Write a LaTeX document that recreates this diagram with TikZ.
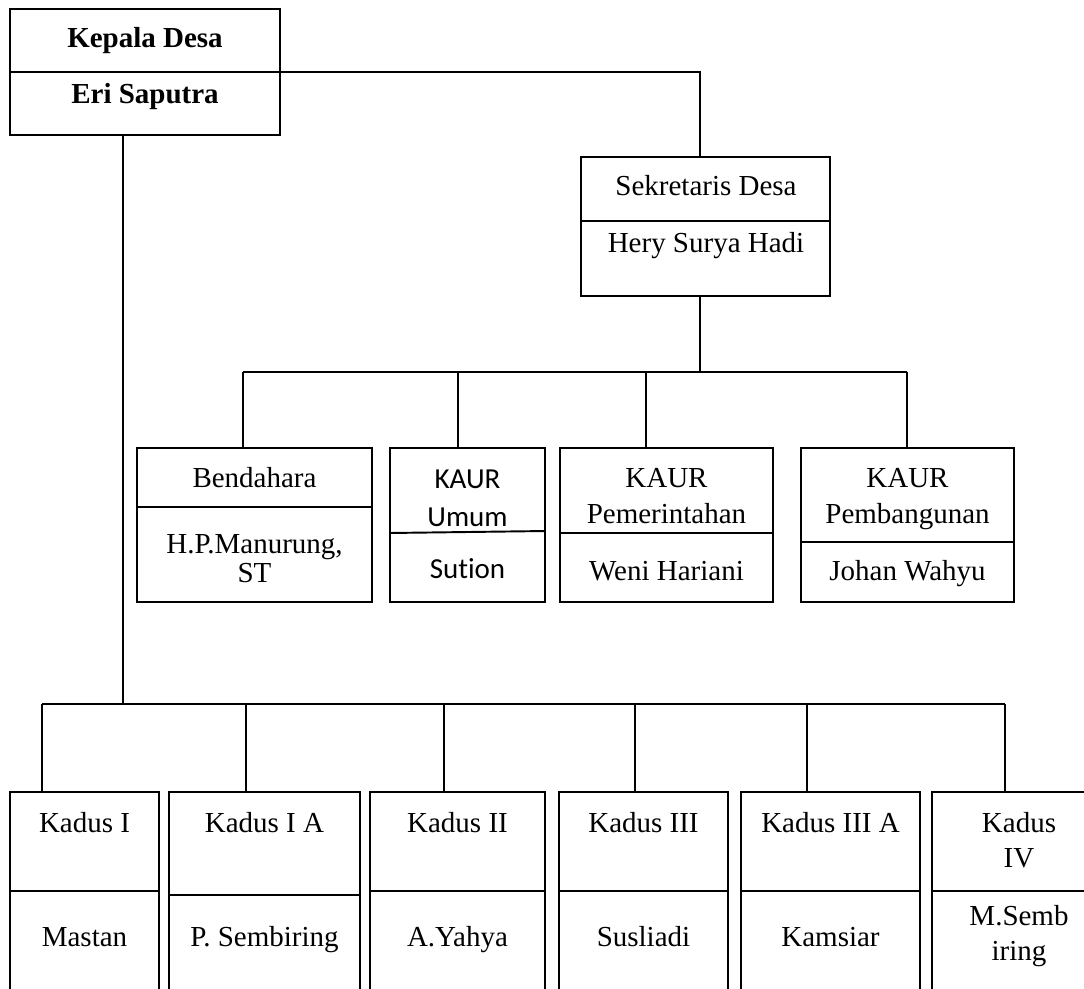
\documentclass[tikz,border=0pt]{standalone}
\usepackage{fontspec}
\setmainfont{Liberation Serif}
\newfontfamily\calibri[Ligatures=NoCommon]{Carlito}
\begin{document}
\begin{tikzpicture}[x=0.02cm,y=-0.02cm,
  kotak/.style={draw, line width=1.1pt, rectangle, inner sep=0pt},
  garis/.style={line width=1.1pt},
  teks/.style={anchor=base, inner sep=0pt, font=\fontsize{16.5}{20}\selectfont},
  tebal/.style={teks, font=\fontsize{16.5}{20}\selectfont\bfseries}]

\useasboundingbox (0,0) rectangle (1084,988);
\clip (0,0) rectangle (1084,988);

% kepala desa
\node[kotak, minimum width=5.4cm, minimum height=2.52cm] (kades) at (145,72) {};
\draw[garis] (kades.west) -- (kades.east);
\node[tebal] (kades1) at (145,47) {Kepala Desa};
\node[tebal] (kades2) at (145,103) {Eri Saputra};

% sekretaris
\node[kotak, minimum width=4.98cm, minimum height=2.78cm] (sekdes) at (705.5,226.5) {};
\draw[garis] (sekdes.west |- 0,221) -- (sekdes.east |- 0,221);
\node[teks] (sekdes1) at (706,195) {Sekretaris Desa};
\node[teks] (sekdes2) at (706,252) {Hery Surya Hadi};

\coordinate (ks) at (700,72);
\draw[garis] (kades.east) -- (ks) -- (ks |- sekdes.north);

% staf sekretaris
\node[kotak, minimum width=4.7cm, minimum height=3.08cm] (bendahara) at (254.5,525) {};
\draw[garis] (bendahara.west |- 0,507) -- (bendahara.east |- 0,507);
\node[teks] (bendahara1) at (254.5,487) {Bendahara};
\node[teks] (bendahara2) at (254.5,553) {H.P.Manurung,};
\node[teks] (bendahara3) at (254.5,582) {ST};

\node[kotak, minimum width=3.1cm, minimum height=3.08cm] (umum) at (467.5,525) {};
\draw[garis] (umum.west |- 0,533) -- (umum.east |- 0,531);
\node[teks, font=\fontsize{16.5}{20}\selectfont\calibri] (umum1) at (467.5,488) {KAUR};
\node[teks, font=\fontsize{16.5}{20}\selectfont\calibri] (umum2) at (467.5,526) {Umum};
\node[teks, font=\fontsize{16.5}{20}\selectfont\calibri] (umum3) at (467.5,578) {Sut\kern0pt ion};

\node[kotak, minimum width=4.26cm, minimum height=3.08cm] (pemerintahan) at (666.5,525) {};
\draw[garis] (pemerintahan.west |- 0,533) -- (pemerintahan.east |- 0,533);
\node[teks] (pemerintahan1) at (666.5,487) {KAUR};
\node[teks] (pemerintahan2) at (666.5,523) {Pemerintahan};
\node[teks] (pemerintahan3) at (666.5,580) {Weni Hariani};

\node[kotak, minimum width=4.26cm, minimum height=3.08cm] (pembangunan) at (907.5,525) {};
\draw[garis] (pembangunan.west |- 0,542) -- (pembangunan.east |- 0,542);
\node[teks] (pembangunan1) at (907.5,487) {KAUR};
\node[teks] (pembangunan2) at (907.5,523) {Pembangunan};
\node[teks] (pembangunan3) at (907.5,580) {Johan Wahyu};

\coordinate (bus1) at (700,372);
\coordinate (a1) at (243,372);
\coordinate (a2) at (458,372);
\coordinate (a3) at (646,372);
\coordinate (a4) at (907,372);
\draw[garis] (bus1 |- sekdes.south) -- (bus1);
\draw[garis] (a1) -- (a4);
\draw[garis] (a1) -- (a1 |- bendahara.north);
\draw[garis] (a2) -- (a2 |- umum.north);
\draw[garis] (a3) -- (a3 |- pemerintahan.north);
\draw[garis] (a4) -- (a4 |- pembangunan.north);

% kepala dusun
\node[kotak, minimum width=2.98cm, minimum height=4.16cm] (kadus1) at (84.5,896) {};
\draw[garis] (kadus1.west |- 0,891) -- (kadus1.east |- 0,891);
\node[teks] (kadus1a) at (84.5,832) {Kadus I};
\node[teks] (kadus1b) at (84.5,946) {Mastan};

\node[kotak, minimum width=3.82cm, minimum height=4.16cm] (kadus1A) at (264.5,896) {};
\draw[garis] (kadus1A.west |- 0,895) -- (kadus1A.east |- 0,895);
\node[teks] (kadus1Aa) at (264.5,832) {Kadus I A};
\node[teks] (kadus1Ab) at (264.5,946) {P. Sembiring};

\node[kotak, minimum width=3.5cm, minimum height=4.16cm] (kadus2) at (457.5,896) {};
\draw[garis] (kadus2.west |- 0,891) -- (kadus2.east |- 0,891);
\node[teks] (kadus2a) at (457.5,832) {Kadus II};
\node[teks] (kadus2b) at (457.5,946) {A.Yahya};

\node[kotak, minimum width=3.38cm, minimum height=4.16cm] (kadus3) at (643.5,896) {};
\draw[garis] (kadus3.west |- 0,891) -- (kadus3.east |- 0,891);
\node[teks] (kadus3a) at (643.5,832) {Kadus III};
\node[teks] (kadus3b) at (643.5,946) {Susliadi};

\node[kotak, minimum width=3.58cm, minimum height=4.16cm] (kadus3A) at (830.5,896) {};
\draw[garis] (kadus3A.west |- 0,891) -- (kadus3A.east |- 0,891);
\node[teks] (kadus3Aa) at (830.5,832) {Kadus III A};
\node[teks] (kadus3Ab) at (830.5,946) {Kamsiar};

\node[kotak, minimum width=3.36cm, minimum height=4.16cm] (kadus4) at (1016,896) {};
\draw[garis] (kadus4.west |- 0,891) -- (kadus4.east |- 0,891);
\node[teks] (kadus4a) at (1019,832) {Kadus};
\node[teks] (kadus4b) at (1019,867) {IV};
\node[teks] (kadus4c) at (1019,925) {M.Semb};
\node[teks] (kadus4d) at (1019,960) {iring};

\coordinate (bus2) at (123,704);
\coordinate (b1) at (42,704);
\coordinate (b2) at (246,704);
\coordinate (b3) at (444,704);
\coordinate (b4) at (635,704);
\coordinate (b5) at (807,704);
\coordinate (b6) at (1005,704);
\draw[garis] (kades.south -| bus2) -- (bus2);
\draw[garis] (b1) -- (b6);
\draw[garis] (b1) -- (b1 |- kadus1.north);
\draw[garis] (b2) -- (b2 |- kadus1A.north);
\draw[garis] (b3) -- (b3 |- kadus2.north);
\draw[garis] (b4) -- (b4 |- kadus3.north);
\draw[garis] (b5) -- (b5 |- kadus3A.north);
\draw[garis] (b6) -- (b6 |- kadus4.north);

\end{tikzpicture}
\end{document}
